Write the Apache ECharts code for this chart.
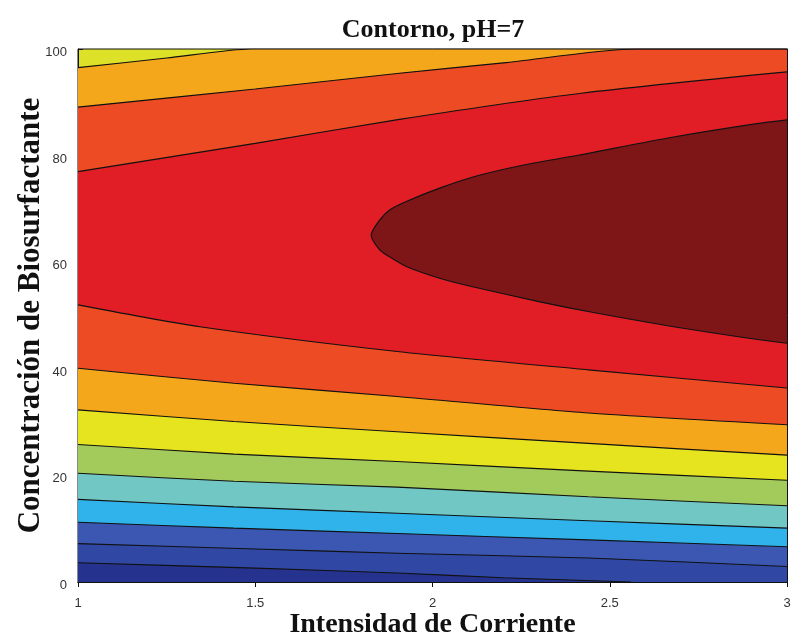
<!DOCTYPE html>
<html>
<head>
<meta charset="utf-8">
<script src="https://cdn.jsdelivr.net/npm/echarts@6/dist/echarts.min.js"></script>
<style>html,body{margin:0;padding:0;background:#fff}#c{width:791px;height:637px}</style>
</head>
<body>
<div id="c"></div>
<script>
// ---- data ([x, y] points of each contour line) ----
var xTicks = [1, 1.5, 2, 2.5, 3];
var yTicks = [0, 20, 40, 60, 80, 100];

var lineA = [[1, 96.5], [1.25, 98.3], [1.49, 100], [3, 100]];
var lineB = [[1, 89.1], [1.5, 92.5], [1.9, 95.4], [2.2, 97.4], [2.575, 100], [3, 100]];
var lineC = [[1, 77.0], [1.5, 82.3], [1.907, 86.8], [2.42, 91.7], [3, 95.7]];
var ellipseUpper = [[1.827, 65.1], [1.851, 67.9], [1.879, 69.8], [1.926, 71.4], [2.02, 73.9], [2.114, 76.0], [2.254, 78.2], [2.414, 80.1], [2.68, 83.5], [3, 86.7]];
var ellipseLower = [[1.827, 65.1], [1.851, 62.3], [1.879, 61.0], [1.926, 59.2], [2.02, 57.0], [2.113, 55.4], [2.30, 52.6], [2.45, 50.6], [2.68, 47.9], [3, 44.8]];
var lineD = [[1, 52.0], [1.344, 47.9], [1.907, 43.2], [2.44, 39.8], [3, 36.4]];
var lineE = [[1, 40.1], [1.44, 37.3], [1.9, 34.8], [2.44, 31.7], [3, 29.5]];
var lineF = [[1, 32.3], [1.44, 30.1], [1.9, 28.2], [2.44, 26.0], [3, 23.8]];
var lineG = [[1, 25.8], [1.44, 24.0], [1.9, 22.6], [2.44, 20.8], [3, 19.1]];
var lineH = [[1, 20.4], [1.44, 18.9], [1.9, 17.8], [2.44, 16.0], [3, 14.3]];
var lineI = [[1, 15.5], [1.44, 14.1], [1.9, 12.9], [2.44, 11.5], [3, 10.1]];
var lineJ = [[1, 11.2], [1.44, 10.1], [1.9, 9.1], [2.44, 7.9], [3, 6.6]];
var lineK = [[1, 7.2], [1.5, 6.2], [1.9, 5.4], [2.44, 4.5], [3, 2.9]];
var lineL = [[1, 3.6], [1.5, 2.6], [1.9, 1.7], [2.2, 0.8], [2.56, 0]];

// ---- fill colours ----
var topColor = '#dde229';
var cOrange = '#f5a71c', cOrangeRed = '#ec4b23', cRed = '#e11e26', cDarkRed = '#7e1517';
var cYellow = '#e5e41f', cGreen = '#a3cb5c', cTeal = '#70c7c4', cLightBlue = '#2fb3ea';
var cBlue = '#3b57b2', cDarkBlue = '#3048a4', cNavy = '#26338e';

function lineLayer(data, fill) {
  return {
    type: 'line',
    data: data,
    smooth: 0.25,
    symbol: 'none',
    silent: true,
    animation: false,
    clip: true,
    lineStyle: {color: '#111', width: 1.1},
    areaStyle: {color: fill, opacity: 1, origin: 'start'}
  };
}

var series = [
  lineLayer(lineA, cOrange),
  lineLayer(lineB, cOrangeRed),
  lineLayer(lineC, cRed),
  {
    type: 'custom',
    coordinateSystem: 'cartesian2d',
    silent: true,
    animation: false,
    clip: true,
    z: 5,
    data: [ellipseUpper[0]],
    renderItem: function (params, api) {
      var up = ellipseUpper.map(function (p) { return api.coord(p); });
      var low = ellipseLower.map(function (p) { return api.coord(p); });
      var uEnd = up[up.length - 1], lEnd = low[low.length - 1];
      // close the region outside the plot frame (clipped), so the curves keep their shape at the edge
      var pts = up.concat([[uEnd[0] + 40, uEnd[1]], [lEnd[0] + 40, lEnd[1]]], low.slice(1).reverse());
      return {
        type: 'polygon',
        z2: 100,
        shape: {points: pts, smooth: 0.25},
        style: {fill: cDarkRed, stroke: '#111', lineWidth: 1.1}
      };
    }
  },
  lineLayer(lineD, cOrangeRed),
  lineLayer(lineE, cOrange),
  lineLayer(lineF, cYellow),
  lineLayer(lineG, cGreen),
  lineLayer(lineH, cTeal),
  lineLayer(lineI, cLightBlue),
  lineLayer(lineJ, cBlue),
  lineLayer(lineK, cDarkBlue),
  lineLayer(lineL, cNavy)
];

var tickLabelStyle = {fontFamily: 'Liberation Sans, Arial, sans-serif', fontSize: 13, color: '#333'};
var serif = 'Liberation Serif, Times New Roman, serif';
var chart = echarts.init(document.getElementById('c'), null, {renderer: 'canvas'});
chart.setOption({
  animation: false,
  backgroundColor: '#fff',
  title: {
    text: 'Contorno, pH=7',
    left: 428, top: 12, textAlign: 'center',
    textStyle: {fontFamily: serif, fontWeight: 'bold', fontSize: 26, color: '#111'}
  },
  grid: {left: 78, right: 4, top: 49, bottom: 55, outerBoundsMode: 'none', containLabel: false,
         show: true, backgroundColor: topColor, borderColor: '#111', borderWidth: 1},
  xAxis: [{
    type: 'value', min: xTicks[0], max: xTicks[xTicks.length - 1], interval: 0.5,
    name: 'Intensidad de Corriente', nameLocation: 'middle', nameGap: 29, nameMoveOverlap: false,
    nameTextStyle: {fontFamily: serif, fontWeight: 'bold', fontSize: 28, color: '#111'},
    axisLine: {show: true, lineStyle: {color: '#111'}},
    axisTick: {show: true, inside: true, length: 5, lineStyle: {color: '#111'}},
    axisLabel: Object.assign({margin: 15, formatter: function (v) { return xTicks.indexOf(v) >= 0 ? String(v) : ''; }}, tickLabelStyle),
    splitLine: {show: false}
  }, {
    type: 'value', position: 'top', min: xTicks[0], max: xTicks[xTicks.length - 1], interval: 0.5,
    axisLine: {show: true, lineStyle: {color: '#111'}},
    axisTick: {show: true, inside: true, length: 5, lineStyle: {color: '#111'}},
    axisLabel: {show: false}, splitLine: {show: false}
  }],
  yAxis: [{
    type: 'value', min: yTicks[0], max: yTicks[yTicks.length - 1], interval: 20,
    name: 'Concentración de Biosurfactante', nameLocation: 'middle', nameGap: 32, nameRotate: 90, nameMoveOverlap: false,
    nameTextStyle: {fontFamily: serif, fontWeight: 'bold', fontSize: 31, color: '#111'},
    axisLine: {show: true, lineStyle: {color: '#111'}},
    axisTick: {show: true, inside: true, length: 5, lineStyle: {color: '#111'}},
    axisLabel: Object.assign({margin: 11, verticalAlign: 'top', lineHeight: 7}, tickLabelStyle),
    splitLine: {show: false}
  }, {
    type: 'value', position: 'right', min: yTicks[0], max: yTicks[yTicks.length - 1], interval: 20,
    axisLine: {show: true, lineStyle: {color: '#111'}},
    axisTick: {show: true, inside: true, length: 5, lineStyle: {color: '#111'}},
    axisLabel: {show: false}, splitLine: {show: false}
  }],
  series: series
});
</script>
</body>
</html>
